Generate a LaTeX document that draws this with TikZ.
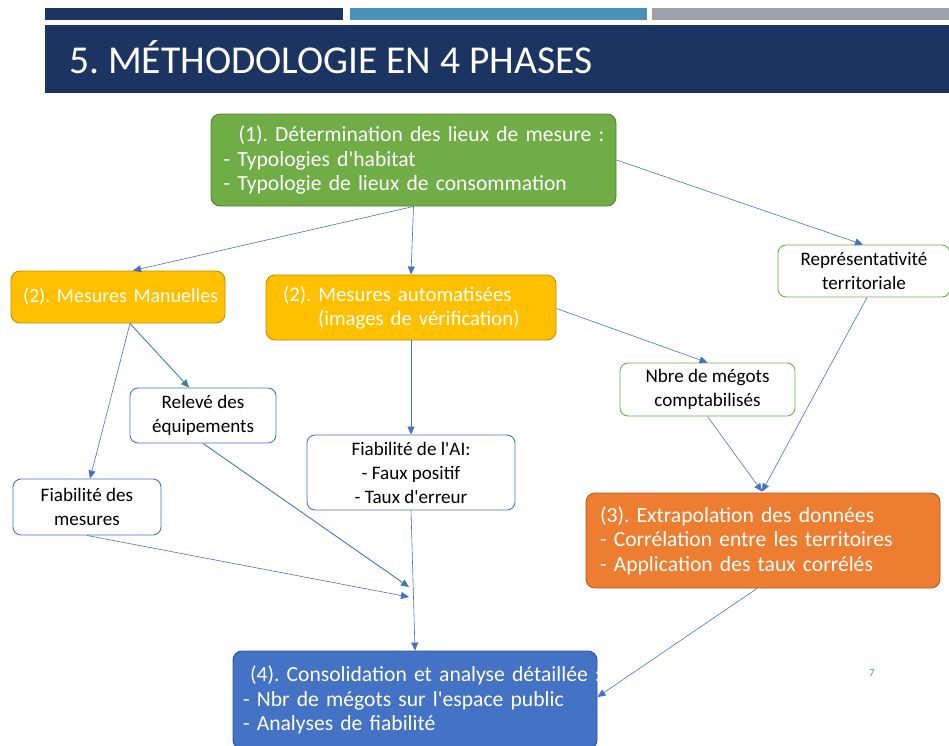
\documentclass[tikz,border=0pt]{standalone}
\usepackage{fontspec}
\setmainfont{Carlito}
\usetikzlibrary{arrows.meta,calc}
\definecolor{navy}{HTML}{1C3461}
\definecolor{barblue}{HTML}{4A90B9}
\definecolor{bargrey}{HTML}{9DA3AA}
\definecolor{gfill}{HTML}{70AD47}
\definecolor{gdraw}{HTML}{548235}
\definecolor{yfill}{HTML}{FFC000}
\definecolor{ydraw}{HTML}{BF9000}
\definecolor{ofill}{HTML}{ED7D31}
\definecolor{odraw}{HTML}{AE5A21}
\definecolor{bfill}{HTML}{4472C4}
\definecolor{bdraw}{HTML}{2F528F}
\definecolor{lineblue}{HTML}{4472C4}
\definecolor{teal}{HTML}{3C80A0}
\definecolor{sgreen}{HTML}{70AD47}
\newcommand{\q}{\textquotesingle}
\tikzset{
  arr/.style={draw=lineblue, line width=0.6pt, -{Triangle[length=8pt,width=7pt]}},
  tarr/.style={draw=teal, line width=0.9pt, -{Triangle[length=8pt,width=7pt]}},
  bigbox/.style={rounded corners=9pt, line width=0.9pt, text=white, inner sep=0pt, align=left,
     font=\fontsize{21.6}{24.5}\selectfont\frenchspacing},
  smallbox/.style={rounded corners=8pt, line width=0.9pt, fill=white, text=black, inner sep=0pt,
     align=center, font=\fontsize{19.1}{24}\selectfont\frenchspacing},
}
\begin{document}
\begin{tikzpicture}[x=1pt,y=-1pt]
\useasboundingbox (0,0) rectangle (949,745);
% header bars
\fill[navy] (45,8) rectangle (343,20);
\fill[barblue] (350,8) rectangle (647,20);
\fill[bargrey] (652,8) rectangle (949,20);
\fill[navy] (45,25) rectangle (949,93);
\node[anchor=base west, text=white, inner sep=0pt, font=\fontsize{39.5}{42}\selectfont\frenchspacing] (title) at (69,73) {5. MÉTHODOLOGIE EN 4 PHASES};
% nodes
\node[bigbox, fill=gfill, draw=gdraw, minimum width=405, minimum height=92, text width=380] (n1) at (413.5,160)
  {\mbox{\hspace*{15pt}(1). Détermination des lieux de mesure :}\\\mbox{- Typologies d\q habitat}\\\mbox{- Typologie de lieux de consommation}};
\node[bigbox, fill=yfill, draw=ydraw, minimum width=214, minimum height=52, text width=190,
      font=\fontsize{20}{24}\selectfont\frenchspacing] (mm) at (118,297)
  {\mbox{(2). Mesures Manuelles}};
\node[bigbox, fill=yfill, draw=ydraw, minimum width=290, minimum height=65, text width=256,
      font=\fontsize{20.8}{24}\selectfont\frenchspacing] (ma) at (411,307.5)
  {\mbox{(2). Mesures automatisées}\\\mbox{\hspace*{35pt}(images de vérification)}};
\node[smallbox, draw=sgreen, minimum width=172, minimum height=52] (rep) at (864,271)
  {Représentativité\\territoriale};
\node[smallbox, draw=sgreen, minimum width=175, minimum height=53] (nb) at (707.5,389.5)
  {Nbre de mégots\\comptabilisés};
\node[smallbox, draw=lineblue, minimum width=146, minimum height=55] (rel) at (203,415.5)
  {Relevé des\\équipements};
\node[smallbox, draw=lineblue, minimum width=208, minimum height=75] (fai) at (411,472.5)
  {Fiabilité de l\q AI:\\- Faux positif\\- Taux d\q erreur};
\node[smallbox, draw=lineblue, minimum width=148, minimum height=56] (fm) at (87,507)
  {Fiabilité des\\mesures};
\node[bigbox, fill=ofill, draw=odraw, minimum width=354, minimum height=95, text width=326] (n3) at (763,540.5)
  {\mbox{(3). Extrapolation des données}\\\mbox{- Corrélation entre les territoires}\\\mbox{- Application des taux corrélés}};
\node[bigbox, fill=bfill, draw=bdraw, minimum width=364, minimum height=98, text width=344] (n4) at (415,700)
  {\mbox{\hspace*{7pt}(4). Consolidation et analyse détaillée :}\\\mbox{- Nbr de mégots sur l\q espace public}\\\mbox{- Analyses de fiabilité}};
\node[text=barblue, font=\fontsize{11}{13}\selectfont, inner sep=0pt] (pg) at (872,673) {7};
% free ends
\coordinate (p1) at (409,587);
\coordinate (p2) at (409,597);
% connectors
\draw[arr] (n1.south) -- ($(mm.north)+(15,0)$);
\draw[arr] (n1.south) -- (ma.north);
\draw[arr] (n1.east) -- ($(rep.north)+(-1,0)$);
\draw[tarr] ($(mm.south)+(12,0)$) -- ($(rel.north)+(-14,0)$);
\draw[arr] ($(mm.south)+(12,0)$) -- ($(fm.north)+(3,0)$);
\draw[arr] (ma.south) -- (fai.north);
\draw[arr] ($(ma.east)+(0,1)$) -- (nb.north);
\draw[tarr] (rel.south) -- (p1);
\draw[arr] (fm.south) -- (p2);
\draw[arr] (fai.south) -- (n4.north);
\draw[arr] (nb.south) -- ($(n3.north)+(-1,-1)$);
\draw[arr] ($(rep.south)+(3,0)$) -- ($(n3.north)+(-1,-1)$);
\draw[arr] ($(n3.south)+(-6,0)$) -- ($(n4.east)+(0,-3)$);
\end{tikzpicture}
\end{document}
